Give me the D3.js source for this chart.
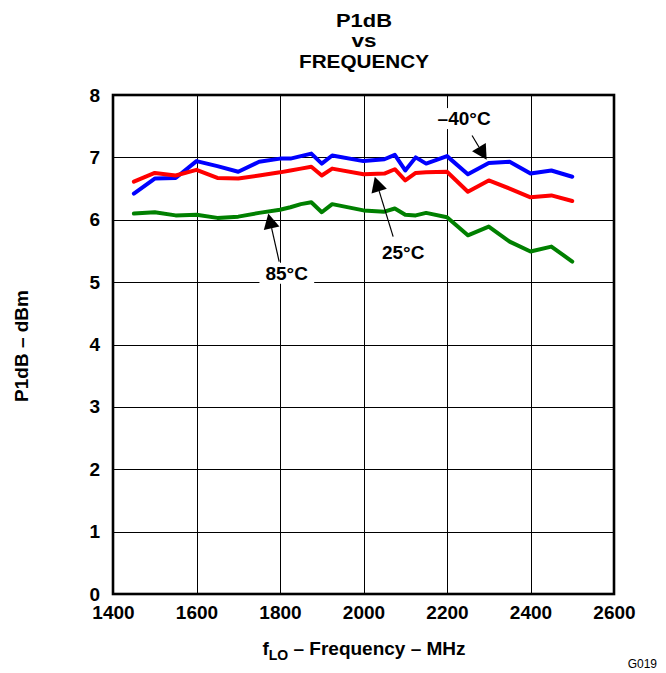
<!DOCTYPE html>
<html><head><meta charset="utf-8">
<script src="https://cdn.jsdelivr.net/npm/d3@7"></script>
<style>body{margin:0;background:#fff}svg{display:block;font-family:"Liberation Sans",Arial,sans-serif}</style>
</head><body>
<script>
const freq = [1450,1500,1550,1600,1650,1700,1750,1800,1825,1850,1875,1900,1925,2000,2050,2075,2100,2125,2150,2200,2250,2300,2350,2400,2450,2500];
const p1dbM40 = [6.42,6.66,6.67,6.94,6.86,6.77,6.93,6.98,6.98,7.02,7.06,6.90,7.03,6.94,6.97,7.04,6.79,7.00,6.90,7.02,6.73,6.91,6.93,6.74,6.79,6.69];
const p1db25 = [6.61,6.75,6.71,6.80,6.67,6.66,6.71,6.76,6.79,6.82,6.85,6.71,6.82,6.73,6.74,6.81,6.63,6.75,6.76,6.77,6.45,6.63,6.50,6.36,6.39,6.30];
const p1db85 = [6.10,6.12,6.07,6.08,6.03,6.05,6.11,6.16,6.20,6.25,6.28,6.12,6.25,6.15,6.13,6.18,6.08,6.07,6.11,6.04,5.75,5.89,5.65,5.49,5.57,5.33];
const xTicks = [1400,1600,1800,2000,2200,2400,2600];
const yTicks = [0,1,2,3,4,5,6,7,8];
const series = [
  {name:"-40", values:p1dbM40, color:"#0000ff"},
  {name:"25", values:p1db25, color:"#ff0000"},
  {name:"85", values:p1db85, color:"#008000"}
];
// annotations: label, label position (data), arrow tail/tip (data)
const notes = [
  {text:"\u201340\u00b0C", lx:2241, ly:7.63, tail:[2260,7.35], tip:[2295,6.96]},
  {text:"25\u00b0C", lx:2095, ly:5.49, tail:[2071,5.73], tip:[2027,6.69]},
  {text:"85\u00b0C", lx:1816, ly:5.15, tail:[1798,5.33], tip:[1772,6.10]}
];
const titleLines = ["P1dB","vs","FREQUENCY"];

const W=666,H=673;
const L=113,R=614,T=95,B=594;
const FS=19;
const svg=d3.select("body").append("svg").attr("width",W).attr("height",H);
const x=d3.scaleLinear().domain([1400,2600]).range([L,R]);
const y=d3.scaleLinear().domain([0,8]).range([B,T]);

// grid
svg.append("g").attr("shape-rendering","crispEdges").selectAll("line").data(xTicks).join("line")
  .attr("x1",d=>Math.round(x(d))+0.5).attr("x2",d=>Math.round(x(d))+0.5).attr("y1",T).attr("y2",B)
  .attr("stroke","#000").attr("stroke-width",1);
svg.append("g").attr("shape-rendering","crispEdges").selectAll("line").data(yTicks).join("line")
  .attr("x1",L).attr("x2",R).attr("y1",d=>Math.round(y(d))+0.5).attr("y2",d=>Math.round(y(d))+0.5)
  .attr("stroke","#000").attr("stroke-width",1);

// lines
const line=d3.line().x((d,i)=>x(freq[i])).y(d=>y(d));
svg.append("g").selectAll("path").data(series).join("path")
  .attr("d",d=>line(d.values)).attr("fill","none")
  .attr("stroke",d=>d.color).attr("stroke-width",4)
  .attr("stroke-linejoin","round").attr("stroke-linecap","round");

// border
svg.append("rect").attr("x",L).attr("y",T).attr("width",R-L).attr("height",B-T)
  .attr("fill","none").attr("stroke","#000").attr("stroke-width",2.6);

// axes labels
const xAxis=d3.axisBottom(x).tickValues(xTicks).tickSize(0).tickPadding(12).tickFormat(d3.format("d"));
const gx=svg.append("g").attr("transform",`translate(0,${B})`).call(xAxis);
gx.select(".domain").remove();
gx.attr("font-size",FS).attr("font-family","Liberation Sans, Arial, sans-serif");
gx.selectAll("text").attr("font-size",FS).attr("font-weight","bold").attr("fill","#000");
const yAxis=d3.axisLeft(y).tickValues(yTicks).tickSize(0).tickPadding(13).tickFormat(d3.format("d"));
const gy=svg.append("g").attr("transform",`translate(${L},0)`).call(yAxis);
gy.select(".domain").remove();
gy.attr("font-size",FS).attr("font-family","Liberation Sans, Arial, sans-serif");
gy.selectAll("text").attr("font-size",FS).attr("font-weight","bold").attr("fill","#000");

// annotations
notes.forEach(n=>{
  const g=svg.append("g");
  const tx=x(n.tail[0]),ty=y(n.tail[1]),px=x(n.tip[0]),py=y(n.tip[1]);
  const ang=Math.atan2(py-ty,px-tx);
  const len=15,hw=8;
  const bx=px-len*Math.cos(ang),by=py-len*Math.sin(ang);
  const box=g.append("rect").attr("fill","#fff");
  g.append("line").attr("x1",tx).attr("y1",ty).attr("x2",bx).attr("y2",by)
    .attr("stroke","#000").attr("stroke-width",1.2);
  const p1=[bx+hw*Math.sin(ang),by-hw*Math.cos(ang)],p2=[bx-hw*Math.sin(ang),by+hw*Math.cos(ang)];
  g.append("path").attr("d",`M${px},${py}L${p1[0]},${p1[1]}L${p2[0]},${p2[1]}Z`).attr("fill","#000");
  const t=g.append("text").attr("x",x(n.lx)).attr("y",y(n.ly)+7).attr("text-anchor","middle")
    .attr("font-size",FS).attr("font-weight","bold").text(n.text);
  const bb=t.node().getBBox();
  box.attr("x",bb.x-6).attr("y",bb.y).attr("width",bb.width+12).attr("height",bb.height);
});

// titles
const titleY=[26.5,47,68];
const titleW=[56,25,130];
svg.append("g").selectAll("text").data(titleLines).join("text")
  .attr("x",364).attr("y",(d,i)=>titleY[i]).attr("text-anchor","middle")
  .attr("font-size",18).attr("font-weight","bold")
  .attr("textLength",(d,i)=>titleW[i]).attr("lengthAdjust","spacingAndGlyphs")
  .text(d=>d);

const xt=svg.append("text").attr("x",364).attr("y",655).attr("text-anchor","middle")
  .attr("font-size",FS).attr("font-weight","bold");
xt.append("tspan").text("f");
xt.append("tspan").attr("font-size",14).attr("dy",5).text("LO");
xt.append("tspan").attr("dy",-5).text(" \u2013 Frequency \u2013 MHz");

svg.append("text").attr("transform","translate(28,346) rotate(-90)").attr("text-anchor","middle")
  .attr("font-size",FS).attr("font-weight","bold").text("P1dB \u2013 dBm");

svg.append("text").attr("x",657).attr("y",668).attr("text-anchor","end").attr("font-size",12).text("G019");
</script>
</body></html>
